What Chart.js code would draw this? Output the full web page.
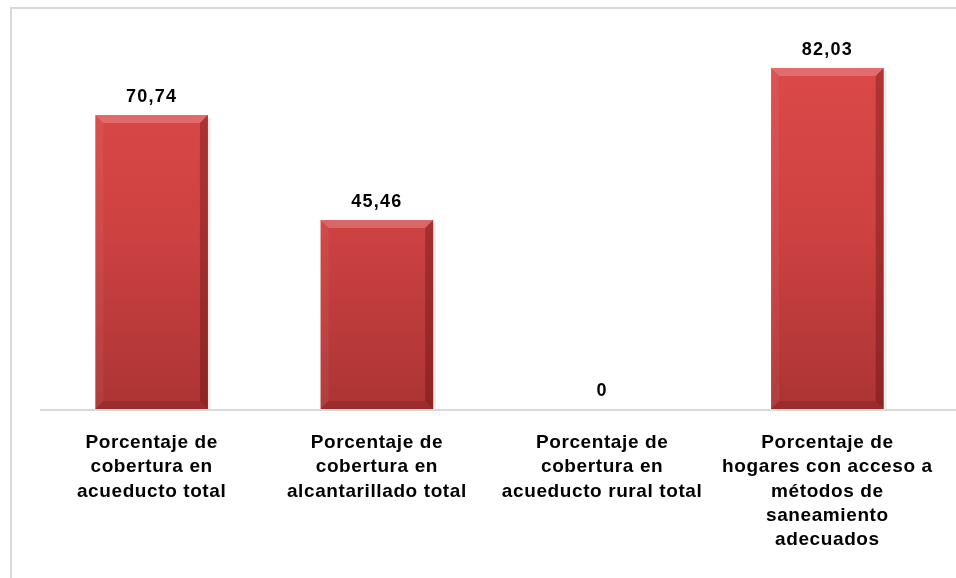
<!DOCTYPE html>
<html>
<head>
<meta charset="utf-8">
<script src="https://cdn.jsdelivr.net/npm/chart.js@4/dist/chart.umd.min.js"></script>
<style>
  html, body { margin: 0; padding: 0; background: #fff; }
  #wrap { position: relative; width: 956px; height: 578px; overflow: hidden; }
  #frame { position: absolute; left: 10px; top: 7px; width: 1000px; height: 1000px; border: 2px solid #d9d9d9; box-sizing: border-box; }
  canvas { position: absolute; left: 0; top: 0; }
</style>
</head>
<body>
<div id="wrap">
  <div id="frame"></div>
  <canvas id="chart" width="956" height="578"></canvas>
</div>
<script>
const categories = [
  ["Porcentaje de", "cobertura en", "acueducto total"],
  ["Porcentaje de", "cobertura en", "alcantarillado total"],
  ["Porcentaje de", "cobertura en", "acueducto rural total"],
  ["Porcentaje de", "hogares con acceso a", "métodos de", "saneamiento", "adecuados"]
];
const values = [70.74, 45.46, 0, 82.03];
const valueLabels = ["70,74", "45,46", "0", "82,03"];

const FONT = "'Liberation Sans', Arial, sans-serif";

// text in the reference is a bit wider than plain Arial
const spacing = {
  id: "spacing",
  beforeDraw(chart) { chart.ctx.letterSpacing = "0.6px"; },
  afterDraw(chart) { chart.ctx.letterSpacing = "0px"; }
};

// baseline across the plot, frame-like gray
const baseline = {
  id: "baseline",
  beforeDatasetsDraw(chart) {
    const ctx = chart.ctx;
    const y = chart.scales.y.getPixelForValue(0);
    ctx.save();
    ctx.strokeStyle = "#d9d9d9";
    ctx.lineWidth = 2;
    ctx.beginPath();
    ctx.moveTo(40, y + 1);
    ctx.lineTo(956, y + 1);
    ctx.stroke();
    ctx.restore();
  }
};

// bevel look on each bar + value labels
const bevel = {
  id: "bevel",
  afterDatasetsDraw(chart) {
    const ctx = chart.ctx;
    const meta = chart.getDatasetMeta(0);
    meta.data.forEach((bar, i) => {
      const w = bar.width;
      const l = bar.x - w / 2, r = bar.x + w / 2;
      const t = bar.y, b = bar.base;
      const h = b - t;
      if (h > 4) {
        const k = Math.min(8, h / 2);
        ctx.save();
        ctx.fillStyle = "rgba(255,255,255,0.2)";
        ctx.beginPath();
        ctx.moveTo(l, t); ctx.lineTo(r, t); ctx.lineTo(r - k, t + k); ctx.lineTo(l + k, t + k);
        ctx.closePath(); ctx.fill();
        ctx.fillStyle = "rgba(255,255,255,0.05)";
        ctx.beginPath();
        ctx.moveTo(l, t); ctx.lineTo(l + k, t + k); ctx.lineTo(l + k, b - k); ctx.lineTo(l, b);
        ctx.closePath(); ctx.fill();
        ctx.fillStyle = "rgba(60,0,0,0.28)";
        ctx.beginPath();
        ctx.moveTo(r, t); ctx.lineTo(r - k, t + k); ctx.lineTo(r - k, b - k); ctx.lineTo(r, b);
        ctx.closePath(); ctx.fill();
        ctx.fillStyle = "rgba(60,0,0,0.15)";
        ctx.beginPath();
        ctx.moveTo(l, b); ctx.lineTo(l + k, b - k); ctx.lineTo(r - k, b - k); ctx.lineTo(r, b);
        ctx.closePath(); ctx.fill();
        // soft shadow to the right
        ctx.fillStyle = "rgba(0,0,0,0.07)";
        ctx.fillRect(r, t + 3, 3, h - 3);
        ctx.restore();
      }
      ctx.save();
      ctx.fillStyle = "#000";
      ctx.font = "bold 18px " + FONT;
      ctx.letterSpacing = "1.2px";
      ctx.textAlign = "center";
      ctx.textBaseline = "middle";
      ctx.fillText(valueLabels[i], bar.x, t - 18);
      ctx.restore();
    });
  }
};

const ctx = document.getElementById("chart");
new Chart(ctx, {
  type: "bar",
  data: {
    labels: categories,
    datasets: [{
      data: values,
      backgroundColor(c) {
        const area = c.chart.chartArea;
        if (!area) return "#d44444";
        const g = c.chart.ctx.createLinearGradient(0, area.top, 0, area.bottom);
        g.addColorStop(0, "#de4a4a");
        g.addColorStop(0.5, "#cf4242");
        g.addColorStop(1, "#ac3434");
        return g;
      },
      borderWidth: 0,
      categoryPercentage: 1,
      barPercentage: 0.5
    }]
  },
  options: {
    responsive: false,
    animation: false,
    layout: { padding: { left: 39, right: 16, top: 35, bottom: 0 } },
    plugins: { legend: { display: false }, tooltip: { enabled: false } },
    scales: {
      x: {
        grid: { display: false, drawTicks: false },
        border: { display: false },
        ticks: {
          color: "#000",
          padding: 22,
          maxRotation: 0,
          autoSkip: false,
          font: { family: FONT, size: 19, weight: "bold", lineHeight: 1.27 }
        },
        afterFit(s) { s.height = 169; }
      },
      y: {
        display: false,
        min: 0,
        max: 90
      }
    }
  },
  plugins: [spacing, baseline, bevel]
});
</script>
</body>
</html>
